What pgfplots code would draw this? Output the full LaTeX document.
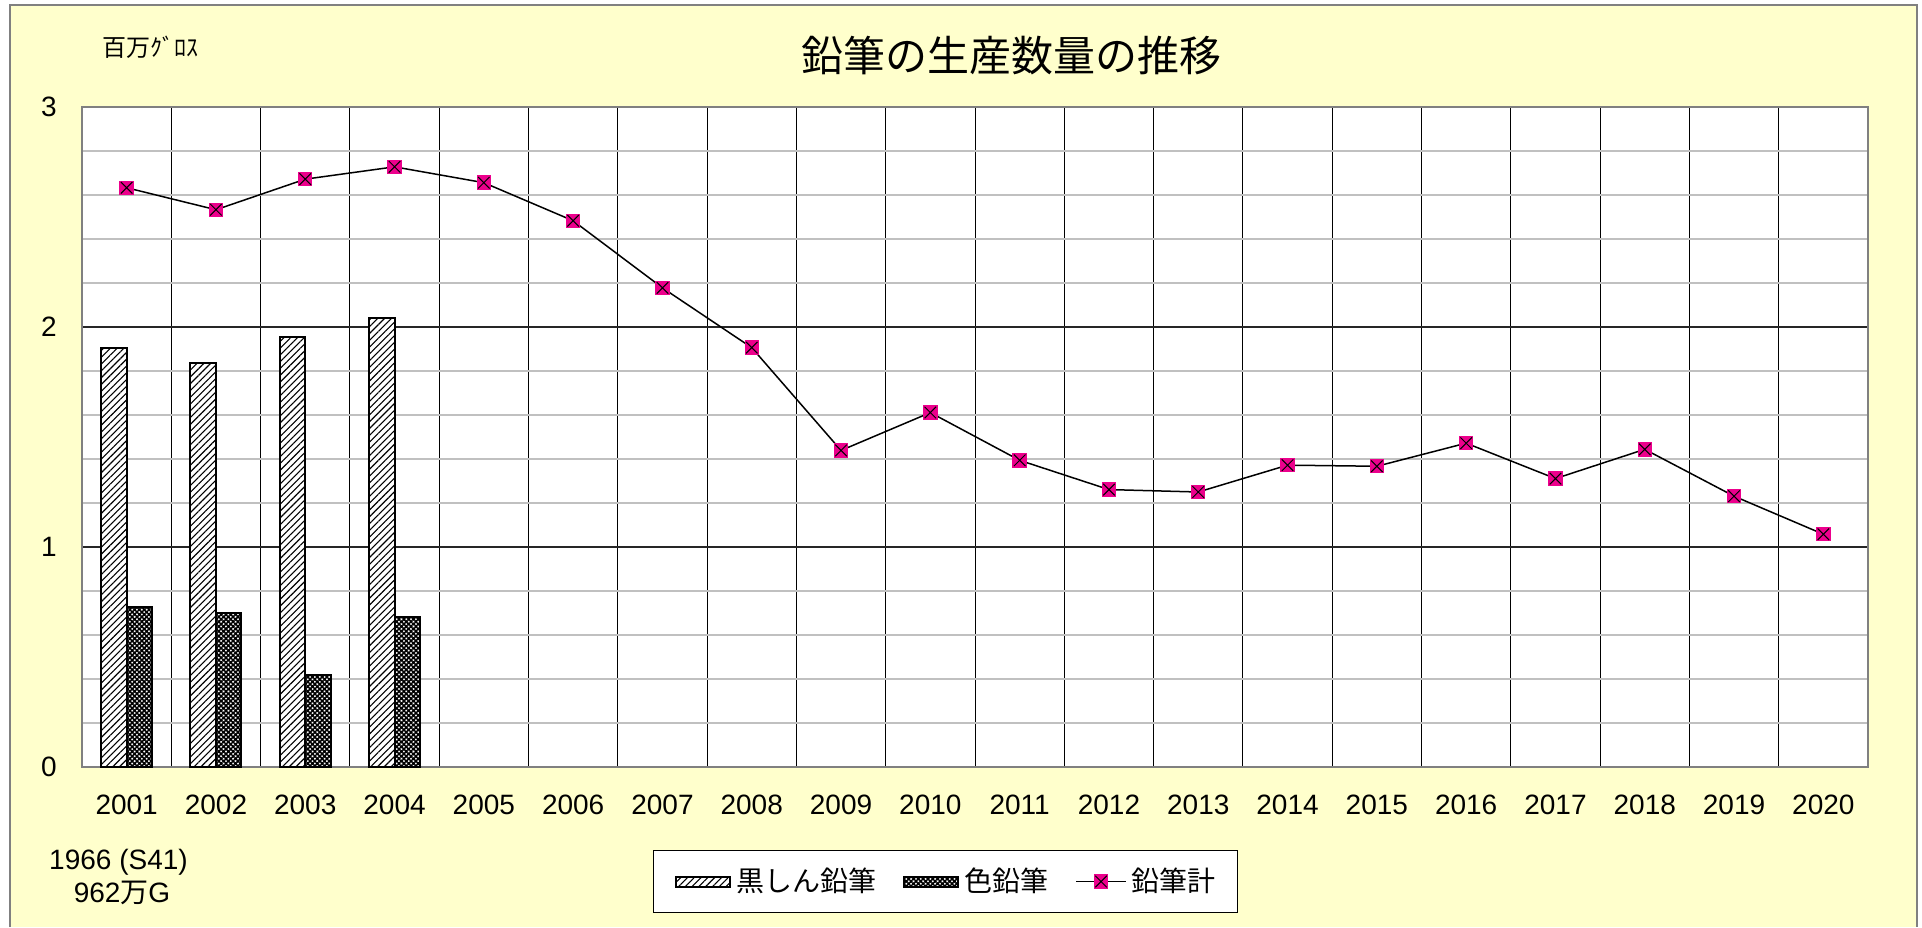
\documentclass[border=0pt]{standalone}
\usepackage{fontspec}
\setmainfont{Liberation Sans}
\newfontfamily\jp{Noto Sans CJK JP}
\usepackage{pgfplots}
\pgfplotsset{compat=1.18}
\usetikzlibrary{patterns.meta}
\definecolor{bgyellow}{HTML}{FFFFCC}
\definecolor{minorgray}{HTML}{C0C0C0}
\definecolor{framegray}{HTML}{808080}
\pgfdeclareplotmark{sqx}{%
  \pgfpathrectangle{\pgfqpoint{-\pgfplotmarksize}{-\pgfplotmarksize}}{\pgfqpoint{2\pgfplotmarksize}{2\pgfplotmarksize}}%
  \pgfsetfillcolor{magenta}\pgfusepathqfill
  \pgfpathmoveto{\pgfqpoint{-0.8\pgfplotmarksize}{-0.8\pgfplotmarksize}}%
  \pgfpathlineto{\pgfqpoint{0.8\pgfplotmarksize}{0.8\pgfplotmarksize}}%
  \pgfpathmoveto{\pgfqpoint{-0.8\pgfplotmarksize}{0.8\pgfplotmarksize}}%
  \pgfpathlineto{\pgfqpoint{0.8\pgfplotmarksize}{-0.8\pgfplotmarksize}}%
  \pgfusepathqstroke
}
\pgfplotsset{
  barleg/.style={legend image code/.code={\draw[##1] (0pt,-2.5pt) rectangle (27pt,2.5pt);}},
  lineleg/.style={legend image code/.code={\draw[mark repeat=2,mark phase=2,##1] plot coordinates {(0pt,0pt) (12.5pt,0pt) (25pt,0pt)};}},
}
\begin{document}
\begin{tikzpicture}
\fill[white] (0,0) rectangle (961pt,463.5pt);
\fill[bgyellow] (5pt,0pt) rectangle (958.5pt,461pt);
\draw[framegray, line width=1pt] (5pt,0pt) -- (5pt,461pt) -- (958.5pt,461pt) -- (958.5pt,0pt);
\begin{axis}[
  at={(41pt,80pt)}, anchor=south west,
  scale only axis, width=893pt, height=330pt,
  axis background/.style={fill=white},
  axis line style={draw=framegray, line width=1pt},
  xmin=-0.5, xmax=19.5, ymin=0, ymax=3,
  xtick={0,...,19},
  xticklabels={2001,2002,2003,2004,2005,2006,2007,2008,2009,2010,2011,2012,2013,2014,2015,2016,2017,2018,2019,2020},
  minor xtick={0.5,1.5,...,18.5},
  ytick={0,1,2,3}, yticklabels={0,1,2,3},
  minor ytick={0.2,0.4,0.6,0.8,1.2,1.4,1.6,1.8,2.2,2.4,2.6,2.8},
  xminorgrids=true, ymajorgrids=true, yminorgrids=true,
  minor x grid style={black, line width=0.5pt},
  major y grid style={black!85, line width=0.6pt},
  minor y grid style={minorgray, line width=0.8pt},
  major tick length=0pt, minor tick length=0pt,
  tick style={draw=none},
  ticklabel style={font=\fontsize{14}{16}\selectfont, inner sep=0pt},
  xticklabel style={anchor=north, yshift=-14pt},
  yticklabel style={anchor=east, xshift=-12.5pt},
  legend columns=3,
  legend style={at={(0.4835,-0.1735)}, anchor=center, draw=black, fill=white,
    line width=0.6pt,
    font=\jp\fontsize{14}{16}\selectfont,
    inner xsep=11pt, inner ysep=9pt,
    nodes={inner sep=0pt},
    /tikz/every odd column/.append style={column sep=2.5pt},
    /tikz/every even column/.append style={column sep=13.5pt}},
]
\addplot[ybar, bar width=12.75pt, bar shift=-6.375pt, draw=black, line width=1pt, fill=white,
  postaction={pattern={Lines[angle=45,distance=2.4pt,line width=0.55pt]}}, barleg]
  coordinates {(0,1.903) (1,1.835) (2,1.953) (3,2.042)};
\addlegendentry{黒しん鉛筆}
\addplot[ybar, bar width=12.75pt, bar shift=6.375pt, draw=black, line width=1pt, fill=white,
  postaction={pattern={Hatch[angle=45,distance=1.7pt,line width=0.8pt]}}, barleg]
  coordinates {(0,0.729) (1,0.699) (2,0.417) (3,0.683)};
\addlegendentry{色鉛筆}
\addplot[black, line width=0.75pt, mark=sqx, mark size=3.6pt,
  mark options={solid, black, line width=0.5pt}, lineleg]
  coordinates {
  (0,2.633) (1,2.533) (2,2.672) (3,2.728) (4,2.656) (5,2.483) (6,2.178) (7,1.906)
  (8,1.439) (9,1.611) (10,1.394) (11,1.261) (12,1.250) (13,1.372) (14,1.367)
  (15,1.472) (16,1.311) (17,1.444) (18,1.231) (19,1.058)};
\addlegendentry{鉛筆計}
\end{axis}
\node[font=\jp\fontsize{21}{24}\selectfont, inner sep=0pt] at (505.5pt,435.5pt) {鉛筆の生産数量の推移};
\node[font=\jp\fontsize{12}{14}\selectfont, inner sep=0pt, anchor=west] at (51pt,439.75pt) {百万ｸﾞﾛｽ};
\node[font=\fontsize{14}{16}\selectfont, inner sep=0pt] at (59.25pt,32.5pt) {1966 (S41)};
\node[font=\fontsize{14}{16}\selectfont, inner sep=0pt] at (61pt,17pt) {962{\jp 万}G};
\pgfresetboundingbox
\useasboundingbox (0,0) rectangle (961pt,463.5pt);
\end{tikzpicture}
\end{document}
